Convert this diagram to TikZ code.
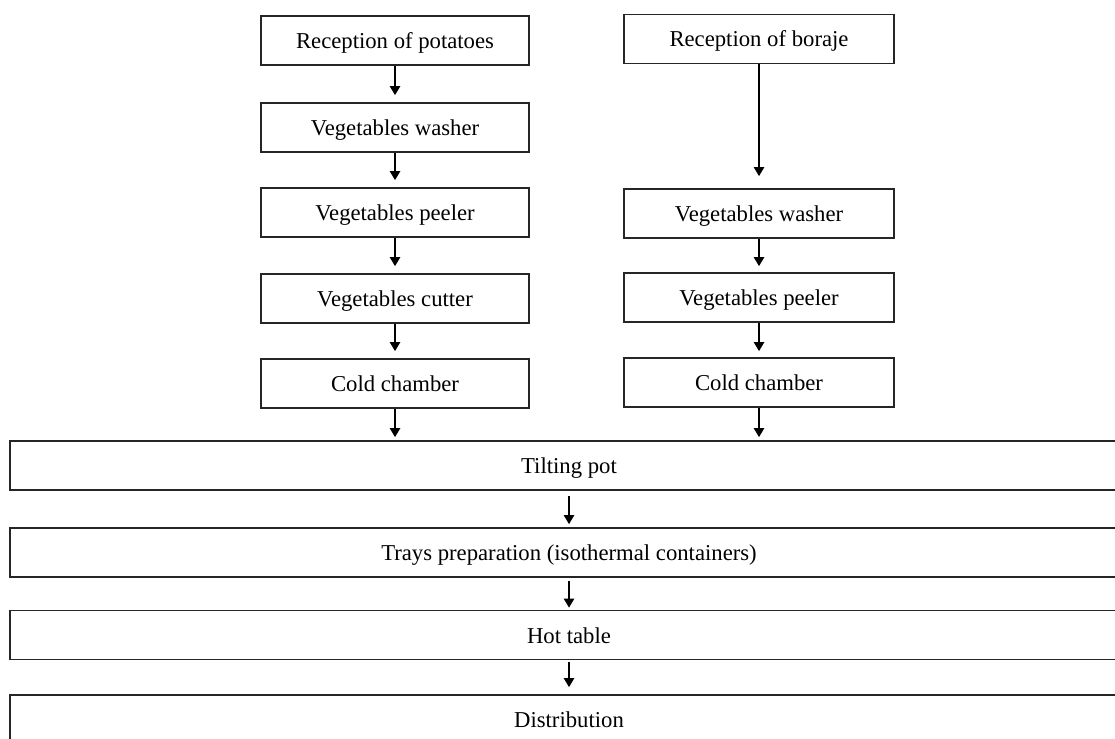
\documentclass[tikz,border=0pt]{standalone}
\usepackage{fontspec}
\setmainfont{Liberation Serif}
\usetikzlibrary{arrows.meta}
\begin{document}
\begin{tikzpicture}[x=1pt,y=-1pt,
  stepbox/.style={draw=black!85, line width=1.6pt, rectangle, inner sep=0pt,
    minimum height=49pt, text height=17pt, text depth=1pt,
    font=\fontsize{22.7}{27}\selectfont},
  colbox/.style={stepbox, minimum width=268pt},
  widebox/.style={stepbox, minimum width=1118pt},
  flow/.style={line width=2.2pt, -{Triangle[length=9pt,width=10pt]}}
]
\useasboundingbox (0,0) rectangle (1115,738);
\clip (0,0) rectangle (1115,738);

% potato line
\node[colbox] (p1) at (395,40.5)  {Reception of potatoes};
\node[colbox] (p2) at (395,127.5) {Vegetables washer};
\node[colbox] (p3) at (395,212.5) {Vegetables peeler};
\node[colbox] (p4) at (395,298.5) {Vegetables cutter};
\node[colbox] (p5) at (395,383.5) {Cold chamber};

% borage line
\node[colbox, minimum width=270pt] (b1) at (759,39)    {Reception of boraje};
\node[colbox, minimum width=270pt] (b2) at (759,213.5) {Vegetables washer};
\node[colbox, minimum width=270pt] (b3) at (759,297.5) {Vegetables peeler};
\node[colbox, minimum width=270pt] (b4) at (759,382.5) {Cold chamber};

% common line
\node[widebox] (w1) at (569,465.5) {Tilting pot};
\node[widebox] (w2) at (569,552.5) {Trays preparation (isothermal containers)};
\node[widebox] (w3) at (569,635)   {Hot table};
\node[widebox] (w4) at (569,719.5) {Distribution};

% connectors
\draw[flow, shorten >=7pt] (p1) -- (p2);
\draw[flow, shorten >=7pt] (p2) -- (p3);
\draw[flow, shorten >=7pt] (p3) -- (p4);
\draw[flow, shorten >=7pt] (p4) -- (p5);
\draw[flow, shorten >=3pt] (p5.south) -- (p5.south |- w1.north);

\draw[flow, shorten >=12pt] (b1) -- (b2);
\draw[flow, shorten >=6pt] (b2) -- (b3);
\draw[flow, shorten >=6pt] (b3) -- (b4);
\draw[flow, shorten >=3pt] (b4.south) -- (b4.south |- w1.north);

\draw[flow, shorten <=5pt, shorten >=3pt] (w1) -- (w2);
\draw[flow, shorten <=3pt, shorten >=2pt] (w2) -- (w3);
\draw[flow, shorten <=2pt, shorten >=7pt] (w3) -- (w4);
\end{tikzpicture}
\end{document}
